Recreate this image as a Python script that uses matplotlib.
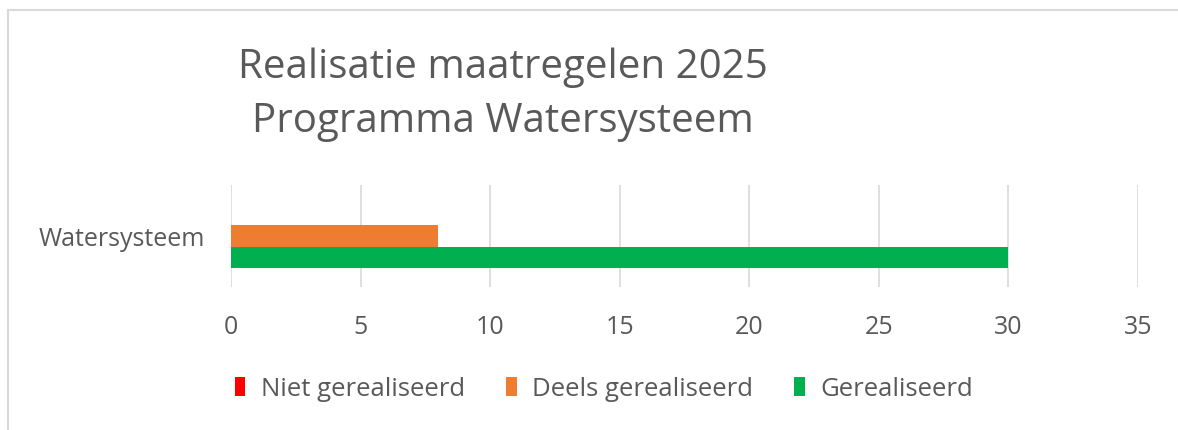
import numpy as np
import matplotlib.pyplot as plt
from matplotlib.patches import Rectangle

# data
categories = ["Watersysteem"]
series_names = ["Niet gerealiseerd", "Deels gerealiseerd", "Gerealiseerd"]
series_values = [[0], [8], [30]]
series_colors = ["#ff0000", "#ed7d31", "#00b050"]
x_ticks = [0, 5, 10, 15, 20, 25, 30, 35]
title_lines = ["Realisatie maatregelen 2025", "Programma Watersysteem"]

plt.rcParams['font.family'] = ['Open Sans', 'DejaVu Sans']
txt_col = "#595959"

fig = plt.figure(figsize=(11.78, 4.30), dpi=100)
W, H = 1178, 430

# chart border (Excel chart area), only left and top visible
fig.patches.append(Rectangle((8 / W, -0.2), 1.2, 1.2 - 10 / H, transform=fig.transFigure,
                             fill=False, edgecolor="#d9d9d9", linewidth=1.5))

ax = fig.add_axes([231 / W, 1 - 287 / H, (1138 - 231) / W, (287 - 185) / H])

y = np.arange(len(categories))
bh = 0.206
for i, (name, vals, col) in enumerate(zip(series_names, series_values, series_colors)):
    off = (1 - i) * bh
    ax.barh(y + off, vals, height=bh, color=col, label=name, zorder=3)

ax.set_xlim(x_ticks[0], x_ticks[-1])
ax.set_ylim(-0.5, 0.5)
ax.set_xticks(x_ticks)
ax.set_yticks(y)
ax.set_yticklabels(categories)
ax.grid(axis='x', color="#d9d9d9", linewidth=1.2, zorder=0)
for s in ax.spines.values():
    s.set_visible(False)
ax.tick_params(length=0, labelsize=18, labelcolor=txt_col)
ax.tick_params(axis='x', pad=20)
ax.tick_params(axis='y', pad=19)

fig.text(503 / W, 1 - 78 / H, title_lines[0], ha='center', va='baseline', fontsize=29, color=txt_col)
fig.text(503 / W, 1 - 132 / H, title_lines[1], ha='center', va='baseline', fontsize=29, color=txt_col)

handles, labels = ax.get_legend_handles_labels()
fig.legend(handles, labels, loc='center', bbox_to_anchor=(604 / W, 1 - 389 / H), ncol=3,
           frameon=False, fontsize=18.5, labelcolor=txt_col, handlelength=0.42, handleheight=0.75,
           handletextpad=0.6, columnspacing=1.6)

fig.savefig("out.png", dpi=100)
